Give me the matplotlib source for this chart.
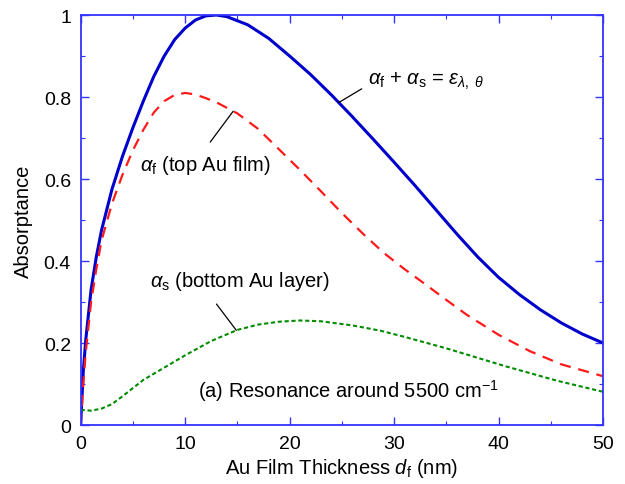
import numpy as np
import matplotlib
matplotlib.use("Agg")
import matplotlib.pyplot as plt
from matplotlib.ticker import MultipleLocator

plt.rcParams['font.family'] = ['Liberation Sans', 'DejaVu Sans']
plt.rcParams['mathtext.fontset'] = 'custom'
plt.rcParams['mathtext.rm'] = 'Liberation Sans'
plt.rcParams['mathtext.it'] = 'Liberation Sans:italic'

# absorptance, thickness in nm
d_total = [0, 0.25, 0.5, 1, 1.5, 2, 3, 4, 5, 6, 7, 8, 9, 10, 11, 12, 13,
           14, 16, 18, 20, 22, 24, 26, 28, 30, 32, 34, 36, 38, 40, 42,
           44, 46, 48, 50]
a_total = [0.0, 0.13, 0.21, 0.33, 0.41, 0.475, 0.575, 0.655, 0.725, 0.79,
           0.85, 0.90, 0.94, 0.968, 0.988, 0.998, 1.0, 0.996, 0.976, 0.943,
           0.90, 0.855, 0.805, 0.752, 0.697, 0.641, 0.584, 0.525, 0.466,
           0.41, 0.36, 0.318, 0.281, 0.249, 0.222, 0.20]

d_film = [0, 0.25, 0.5, 1, 1.5, 2, 3, 4, 5, 6, 7, 8, 9, 10, 11, 12, 13, 15,
          17, 19, 21, 23, 25, 27, 29, 31, 33, 35, 37, 40, 43, 46, 50]
a_film = [0.0, 0.1, 0.18, 0.3, 0.38, 0.45, 0.54, 0.61, 0.67, 0.72, 0.762,
          0.79, 0.805, 0.81, 0.806, 0.797, 0.787, 0.76, 0.722, 0.672, 0.622,
          0.57, 0.517, 0.467, 0.42, 0.38, 0.343, 0.305, 0.268, 0.22, 0.18,
          0.148, 0.119]

d_sub = [0, 1, 2, 3, 4, 5, 6, 8, 10, 12.5, 15, 17, 19, 21, 23, 26, 28.7,
         31, 35, 40.7, 45.6, 50]
a_sub = [0.037, 0.035, 0.04, 0.051, 0.07, 0.09, 0.11, 0.14, 0.17, 0.205,
         0.232, 0.245, 0.252, 0.255, 0.253, 0.243, 0.23, 0.215, 0.187,
         0.143, 0.108, 0.081]

fig = plt.figure(figsize=(6.25, 4.85), dpi=100)
ax = fig.add_axes([0.129, 0.1216, 0.836, 0.8454])

ax.plot(d_total, a_total, color='#0000CC', lw=2.2, solid_capstyle='round')
ax.plot(d_film, a_film, color='#FF1A1A', lw=1.6, dashes=(5, 3.5))
ax.plot(d_sub, a_sub, color='#008C00', lw=1.5, dashes=(2, 1.3))

ax.set_xlim(0, 50)
ax.set_ylim(0, 1)
ax.xaxis.set_major_locator(MultipleLocator(10))
ax.xaxis.set_minor_locator(MultipleLocator(5))
ax.yaxis.set_major_locator(MultipleLocator(0.2))
ax.yaxis.set_minor_locator(MultipleLocator(0.1))
ax.set_yticks([0, 0.2, 0.4, 0.6, 0.8, 1.0])
ax.set_yticklabels(['0', '0.2', '0.4', '0.6', '0.8', '1'])

frame = '#3333FF'
for sp in ax.spines.values():
    sp.set_color(frame)
    sp.set_linewidth(1.3)
ax.tick_params(which='both', direction='in', top=True, right=True,
               color=frame, labelsize=14, labelcolor='black')
ax.tick_params(which='major', length=6, width=1.0, pad=7)
ax.tick_params(which='minor', length=3, width=0.8)

ax.set_xlabel(r'Au Film Thickness $d_\mathrm{f}$ (nm)', fontsize=14.5, labelpad=3)
ax.set_ylabel('Absorptance', fontsize=14.5, labelpad=8)

line_kw = dict(arrowstyle='-', color='black', lw=0.9, shrinkA=0, shrinkB=0)

# leader lines
ax.annotate('', xy=(24.7, np.interp(24.7, d_total, a_total)), xytext=(26.9, 0.82),
            arrowprops=line_kw)
ax.annotate('', xy=(14.6, np.interp(14.6, d_film, a_film)), xytext=(12.4, 0.69),
            arrowprops=line_kw)
ax.annotate('', xy=(14.9, np.interp(14.9, d_sub, a_sub)), xytext=(13.0, 0.295),
            arrowprops=line_kw)

ax.text(27.5, 0.832,
        r'$\alpha_\mathrm{f}$ + $\alpha_\mathrm{s}$ = $\varepsilon_{\lambda,\ \theta}$',
        fontsize=14.5, va='baseline', ha='left')
ax.text(5.7, 0.621, r'$\alpha_\mathrm{f}$ (top Au film)', fontsize=14.5,
        va='baseline', ha='left')
ax.text(6.65, 0.34, r'$\alpha_\mathrm{s}$ (bottom Au layer)', fontsize=14.5,
        va='baseline', ha='left')
ax.text(11.25, 0.068, r'(a) Resonance around 5500 cm$^{-1}$', fontsize=14.5,
        va='baseline', ha='left')

fig.savefig('out.png', dpi=100)
